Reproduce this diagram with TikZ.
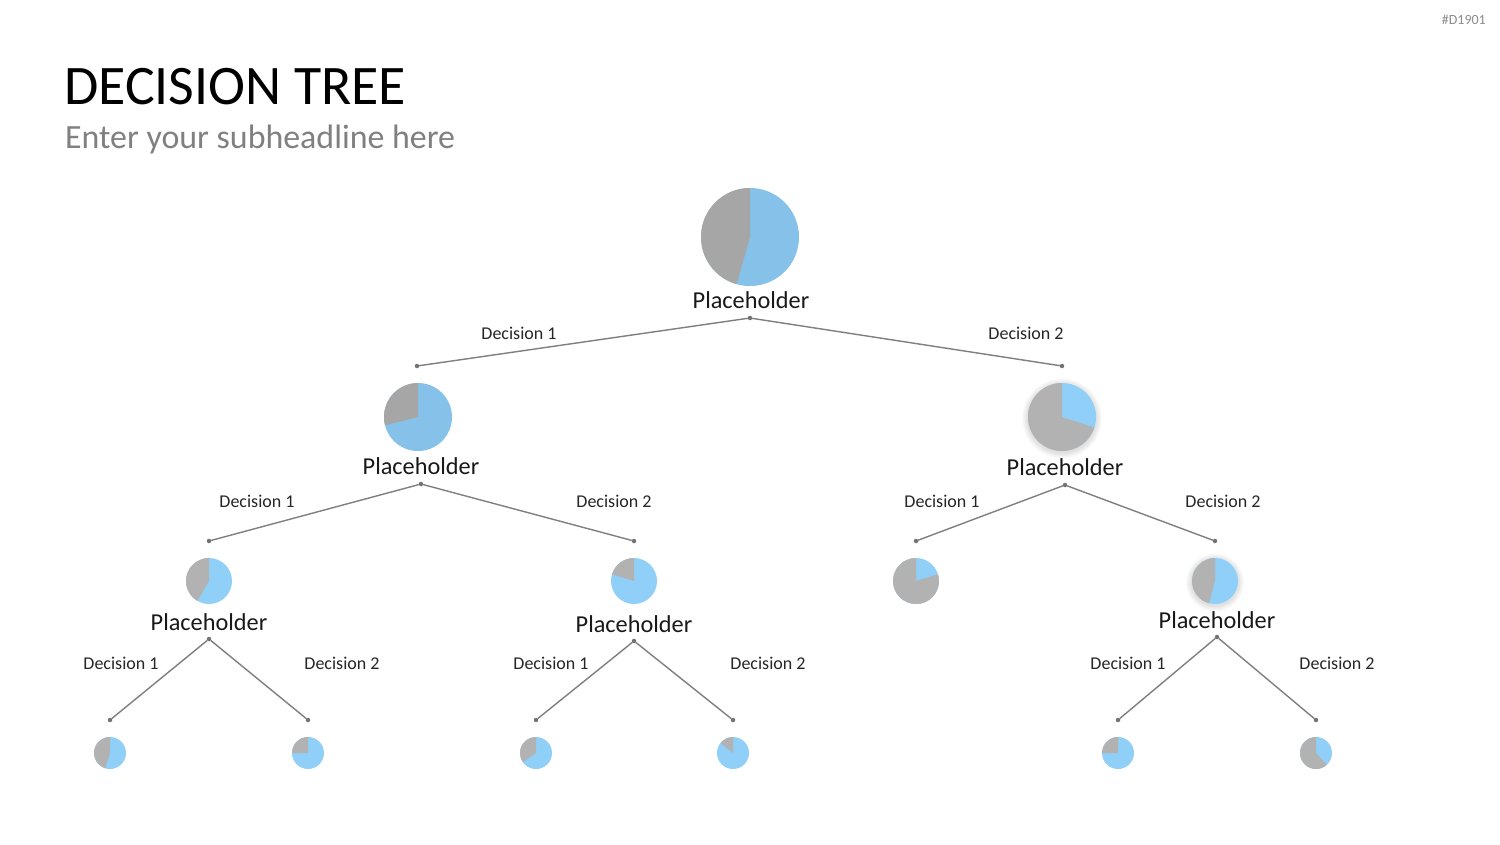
\documentclass[tikz,border=0pt]{standalone}
\usepackage{fontspec}
\setmainfont{Carlito}
\usepackage{xcolor}
\usetikzlibrary{positioning}
\definecolor{azulescuro}{HTML}{85C1E9}
\definecolor{azul}{HTML}{8FCFF8}
\definecolor{cinzaescuro}{HTML}{A6A6A6}
\definecolor{cinza}{HTML}{B2B2B2}
\definecolor{linha}{HTML}{7F7F7F}
\tikzset{
  pizza/.style={circle, fill=azul, minimum size=#1, inner sep=0pt, outer sep=0pt},
  rotulo/.style={anchor=base, inner sep=0pt, font=\fontsize{24.3}{28}\selectfont, text=black!90},
  decisao/.style={inner sep=0pt, font=\fontsize{18}{22}\selectfont, text=black!85},
  ramo/.style={draw=linha, line width=1.4pt},
  juncao/.style={circle, fill=linha!90!black, minimum size=4.5pt, inner sep=0pt, outer sep=0pt},
}
% fatia cinza: no, raio, angulo final, cor
\newcommand{\fatia}[4]{\fill[#4] (#1.center) -- (#1.north) arc[start angle=90, end angle=#3, radius=#2pt] -- cycle;}
\newcommand{\brilho}[2]{\foreach \d in {1,...,6} \fill[black, opacity=0.02] ([yshift=-1.5pt]#1) circle[radius=#2pt+\d pt];}

\begin{document}
\begin{tikzpicture}[x=1pt, y=-1pt]
  \useasboundingbox[fill=white] (0,0) rectangle (1500,844);
  \node[anchor=base west, inner sep=0pt, font=\fontsize{55.8}{60}\selectfont] (titulo) at (64,104) {DECISION TREE};
  \node[anchor=base west, inner sep=0pt, font=\fontsize{33.9}{40}\selectfont, text=black!50] (sub) at (65,148) {Enter your subheadline here};
  \node[anchor=east, inner sep=0pt, font=\fontsize{14}{16}\selectfont, text=black!45] (cod) at (1486,20) {\#D1901};

  % nivel 0
  \node[pizza=98pt, fill=azulescuro] (raiz) at (750,237) {};
  \fatia{raiz}{49}{254}{cinzaescuro}
  \node[rotulo] (traiz) at (751,308) {Placeholder};

  % nivel 1
  \node[pizza=68pt, fill=azulescuro] (esq) at (418,417) {};
  \fatia{esq}{34}{194}{cinzaescuro}
  \node[rotulo] (tesq) at (421,474) {Placeholder};
  \brilho{1062,417}{34}
  \node[pizza=68pt] (dir) at (1062,417) {};
  \fatia{dir}{34}{342}{cinza}
  \node[rotulo] (tdir) at (1065,475) {Placeholder};

  % nivel 2
  \node[pizza=46pt] (esq1) at (209,581) {};
  \fatia{esq1}{23}{240}{cinza}
  \node[rotulo] (tesq1) at (209,630) {Placeholder};
  \node[pizza=46pt] (esq2) at (634,581) {};
  \fatia{esq2}{23}{163}{cinza}
  \node[rotulo] (tesq2) at (634,632) {Placeholder};
  \node[pizza=46pt] (dir1) at (916,581) {};
  \fatia{dir1}{23}{377}{cinza}
  \brilho{1215,581}{23}
  \node[pizza=46pt] (dir2) at (1215,581) {};
  \fatia{dir2}{23}{255}{cinza}
  \node[rotulo] (tdir2) at (1217,628) {Placeholder};

  % nivel 3
  \node[pizza=32pt] (f1) at (110,753) {};
  \fatia{f1}{16}{253}{cinza}
  \node[pizza=32pt] (f2) at (308,753) {};
  \fatia{f2}{16}{180}{cinza}
  \node[pizza=32pt] (f3) at (536,753) {};
  \fatia{f3}{16}{215}{cinza}
  \node[pizza=32pt] (f4) at (733,753) {};
  \fatia{f4}{16}{141}{cinza}
  \node[pizza=32pt] (f5) at (1118,753) {};
  \fatia{f5}{16}{180}{cinza}
  \node[pizza=32pt] (f6) at (1316,753) {};
  \fatia{f6}{16}{313}{cinza}

  % ramos
  \node[juncao] (j0) at (750,318) {};
  \node[juncao] (j0a) at (417,366) {};
  \node[juncao] (j0b) at (1062,366) {};
  \draw[ramo] (j0) -- (j0a);
  \draw[ramo] (j0) -- (j0b);
  \node[decisao] at (519,333) {Decision 1};
  \node[decisao] at (1026,333) {Decision 2};

  \node[juncao] (j1) at (421,484) {};
  \node[juncao] (j1a) at (209,541) {};
  \node[juncao] (j1b) at (634,541) {};
  \draw[ramo] (j1) -- (j1a);
  \draw[ramo] (j1) -- (j1b);
  \node[decisao] at (257,501) {Decision 1};
  \node[decisao] at (614,501) {Decision 2};

  \node[juncao] (j2) at (1065,485) {};
  \node[juncao] (j2a) at (916,541) {};
  \node[juncao] (j2b) at (1215,541) {};
  \draw[ramo] (j2) -- (j2a);
  \draw[ramo] (j2) -- (j2b);
  \node[decisao] at (942,501) {Decision 1};
  \node[decisao] at (1223,501) {Decision 2};

  \node[juncao] (j3) at (209,639) {};
  \node[juncao] (j3a) at (110,720) {};
  \node[juncao] (j3b) at (308,720) {};
  \draw[ramo] (j3) -- (j3a);
  \draw[ramo] (j3) -- (j3b);
  \node[decisao] at (121,663) {Decision 1};
  \node[decisao] at (342,663) {Decision 2};

  \node[juncao] (j4) at (634,641) {};
  \node[juncao] (j4a) at (536,720) {};
  \node[juncao] (j4b) at (733,720) {};
  \draw[ramo] (j4) -- (j4a);
  \draw[ramo] (j4) -- (j4b);
  \node[decisao] at (551,663) {Decision 1};
  \node[decisao] at (768,663) {Decision 2};

  \node[juncao] (j5) at (1217,637) {};
  \node[juncao] (j5a) at (1118,720) {};
  \node[juncao] (j5b) at (1316,720) {};
  \draw[ramo] (j5) -- (j5a);
  \draw[ramo] (j5) -- (j5b);
  \node[decisao] at (1128,663) {Decision 1};
  \node[decisao] at (1337,663) {Decision 2};
\end{tikzpicture}
\end{document}
